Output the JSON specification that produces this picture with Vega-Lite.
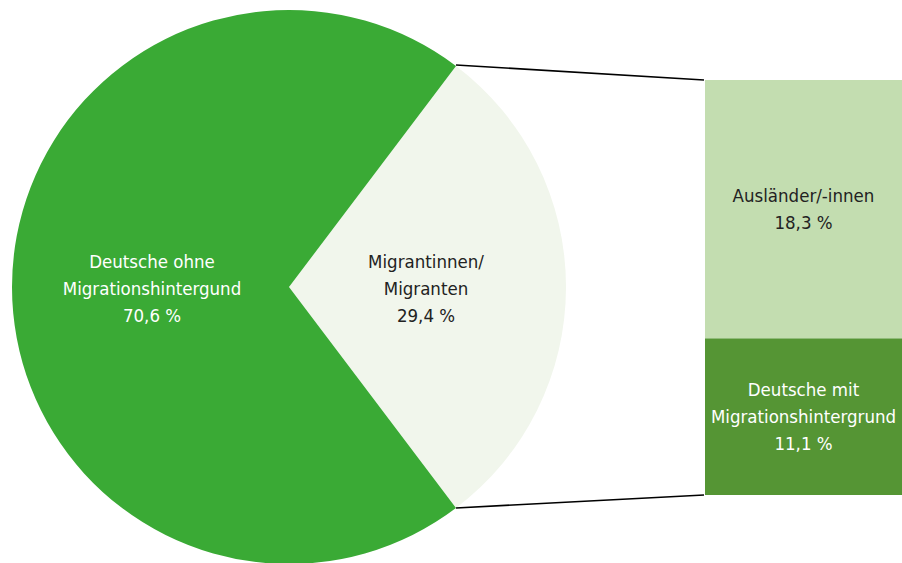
{
  "$schema": "https://vega.github.io/schema/vega-lite/v6.json",
  "width": 902,
  "height": 563,
  "padding": 0,
  "autosize": {"type": "none"},
  "background": "white",
  "config": {"view": {"stroke": null}, "text": {"font": "DejaVu Sans Condensed, DejaVu Sans, sans-serif"}},
  "layer": [
    {
      "data": {"values": [
        {"group": "Migrantinnen/\nMigranten", "pct": "29,4 %", "share": 29.4, "ord": 1},
        {"group": "Deutsche ohne\nMigrationshintergund", "pct": "70,6 %", "share": 70.6, "ord": 2}
      ]},
      "layer": [
        {
          "mark": {"type": "arc", "x": 289, "y": 287, "outerRadius": 277},
          "encoding": {
            "theta": {"field": "share", "type": "quantitative", "stack": true, "scale": {"range": [0.6472, 6.9304]}},
            "order": {"field": "ord", "type": "quantitative"},
            "color": {"field": "group", "type": "nominal", "legend": null,
              "scale": {"domain": ["Migrantinnen/\nMigranten", "Deutsche ohne\nMigrationshintergund"], "range": ["#f1f6ec", "#3aaa35"]}}
          }
        },
        {
          "transform": [{"calculate": "datum.group + '\\n' + datum.pct", "as": "label"}],
          "mark": {"type": "text", "x": 289, "y": 287, "radius": 137, "dy": -25, "lineBreak": "\n", "fontSize": 18.5, "lineHeight": 27, "align": "center", "baseline": "middle"},
          "encoding": {
            "theta": {"field": "share", "type": "quantitative", "stack": true, "scale": {"range": [0.6472, 6.9304]}},
            "order": {"field": "ord", "type": "quantitative"},
            "text": {"field": "label"},
            "color": {"field": "group", "type": "nominal", "legend": null,
              "scale": {"domain": ["Migrantinnen/\nMigranten", "Deutsche ohne\nMigrationshintergund"], "range": ["#222222", "#ffffff"]}}
          }
        }
      ],
      "resolve": {"scale": {"color": "independent"}}
    },
    {
      "data": {"values": [
        {"group": "Deutsche mit\nMigrationshintergrund", "pct": "11,1 %", "share": 11.1, "ord": 1},
        {"group": "Ausländer/-innen", "pct": "18,3 %", "share": 18.3, "ord": 2}
      ]},
      "transform": [
        {"stack": "share", "groupby": [], "sort": [{"field": "ord"}], "as": ["s0", "s1"]},
        {"calculate": "(datum.s0 + datum.s1) / 2", "as": "mid"},
        {"calculate": "datum.group + '\\n' + datum.pct", "as": "label"}
      ],
      "layer": [
        {
          "mark": {"type": "rect"},
          "encoding": {
            "x": {"value": 705},
            "x2": {"value": 902},
            "y": {"field": "s0", "type": "quantitative", "axis": null, "scale": {"domain": [0, 29.4], "range": [495, 80], "nice": false, "zero": true}},
            "y2": {"field": "s1"},
            "color": {"field": "group", "type": "nominal", "legend": null,
              "scale": {"domain": ["Deutsche mit\nMigrationshintergrund", "Ausländer/-innen"], "range": ["#559534", "#c3ddb0"]}}
          }
        },
        {
          "transform": [{"filter": "datum.ord == 2"}],
          "mark": {"type": "text", "dy": -13.5, "lineBreak": "\n", "fontSize": 18.5, "lineHeight": 27, "align": "center", "baseline": "middle", "color": "#222222"},
          "encoding": {
            "x": {"value": 803.5},
            "y": {"field": "mid", "type": "quantitative", "axis": null, "scale": {"domain": [0, 29.4], "range": [495, 80], "nice": false, "zero": true}},
            "text": {"field": "label"}
          }
        },
        {
          "transform": [{"filter": "datum.ord == 1"}],
          "mark": {"type": "text", "dy": -27, "lineBreak": "\n", "fontSize": 18.5, "lineHeight": 27, "align": "center", "baseline": "middle", "color": "#ffffff"},
          "encoding": {
            "x": {"value": 803.5},
            "y": {"field": "mid", "type": "quantitative", "axis": null, "scale": {"domain": [0, 29.4], "range": [495, 80], "nice": false, "zero": true}},
            "text": {"field": "label"}
          }
        }
      ]
    },
    {
      "data": {"values": [{"edge": "top"}]},
      "mark": {"type": "rule", "stroke": "#000000", "strokeWidth": 1.6},
      "encoding": {"x": {"value": 456}, "y": {"value": 65}, "x2": {"value": 704}, "y2": {"value": 80}}
    },
    {
      "data": {"values": [{"edge": "bottom"}]},
      "mark": {"type": "rule", "stroke": "#000000", "strokeWidth": 1.6},
      "encoding": {"x": {"value": 456}, "y": {"value": 508}, "x2": {"value": 704}, "y2": {"value": 495}}
    }
  ],
  "resolve": {"scale": {"color": "independent"}}
}
